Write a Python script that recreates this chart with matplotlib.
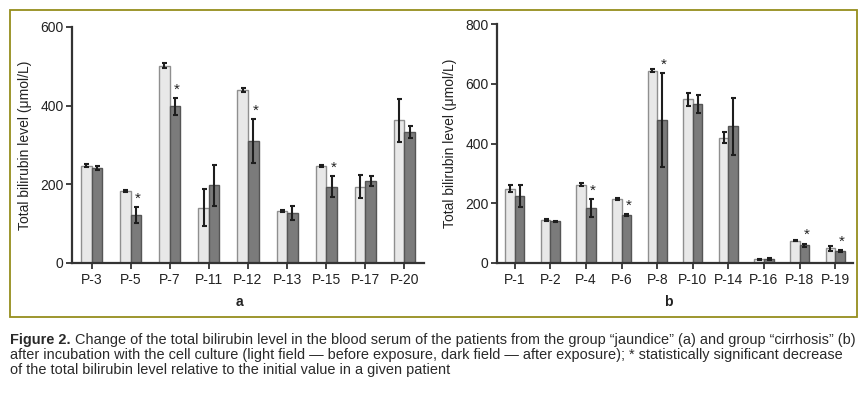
import matplotlib
matplotlib.use('Agg')
import matplotlib.pyplot as plt
from matplotlib import font_manager as fm
from matplotlib.patches import Rectangle
import numpy as np

# ---------------- data ----------------
groups_a = ['P-3', 'P-5', 'P-7', 'P-11', 'P-12', 'P-13', 'P-15', 'P-17', 'P-20']
before_a = [247, 183, 502, 141, 440, 133, 247, 194, 363]
before_err_a = [4, 3, 6, 47, 6, 3, 2, 30, 55]
after_a = [242, 122, 398, 198, 310, 128, 194, 208, 333]
after_err_a = [5, 20, 22, 52, 57, 18, 27, 12, 16]
sig_a = [False, True, True, False, True, False, True, False, False]

groups_b = ['P-1', 'P-2', 'P-4', 'P-6', 'P-8', 'P-10', 'P-14', 'P-16', 'P-18', 'P-19']
before_b = [249, 144, 262, 215, 644, 548, 419, 12, 74, 49]
before_err_b = [13, 3, 5, 3, 6, 22, 18, 2, 2, 9]
after_b = [224, 140, 183, 161, 478, 531, 458, 13, 60, 40]
after_err_b = [37, 2, 30, 4, 158, 30, 95, 3, 5, 3]
sig_b = [False, False, True, True, True, False, False, False, True, True]

ylabel = 'Total bilirubin level (\u03bcmol/L)'
yticks_a = [0, 200, 400, 600]
yticks_b = [0, 200, 400, 600, 800]

caption_bold = 'Figure 2.'
caption_lines = [
    ' Change of the total bilirubin level in the blood serum of the patients from the group \u201cjaundice\u201d (a) and group \u201ccirrhosis\u201d (b)',
    'after incubation with the cell culture (light field \u2014 before exposure, dark field \u2014 after exposure); * statistically significant decrease',
    'of the total bilirubin level relative to the initial value in a given patient',
]

# ---------------- fonts ----------------
def has_font(name):
    try:
        fm.findfont(fm.FontProperties(family=name), fallback_to_default=False)
        return True
    except Exception:
        return False

chart_font = 'Liberation Sans' if has_font('Liberation Sans') else 'DejaVu Sans'
cap_font = 'Liberation Sans Narrow' if has_font('Liberation Sans Narrow') else chart_font
plt.rcParams['font.family'] = [chart_font, 'DejaVu Sans']

W, H = 867, 399
fig = plt.figure(figsize=(W / 100, H / 100), dpi=100)

def rect(l, r, t, b):
    return [l / W, 1 - b / H, (r - l) / W, (b - t) / H]

LIGHT = '#e8e8e8'
LIGHT_EDGE = '#8f8f8f'
DARK = '#7b7b7b'
DARK_EDGE = '#555555'
ERR = '#1e1e1e'
AXC = '#333333'

def panel(ax, groups, before, berr, after, aerr, sig, yticks):
    x = np.arange(len(groups))
    w = 0.27
    ax.bar(x - w / 2, before, w, color=LIGHT, edgecolor=LIGHT_EDGE, linewidth=1.0, zorder=2)
    ax.bar(x + w / 2, after, w, color=DARK, edgecolor=DARK_EDGE, linewidth=1.0, zorder=2)
    ax.errorbar(x - w / 2, before, yerr=berr, fmt='none', ecolor=ERR,
                elinewidth=1.5, capsize=1.8, capthick=1.5, zorder=3)
    ax.errorbar(x + w / 2, after, yerr=aerr, fmt='none', ecolor=ERR,
                elinewidth=1.5, capsize=1.8, capthick=1.5, zorder=3)
    for xi, a, e, s in zip(x, after, aerr, sig):
        if s:
            ax.annotate('*', xy=(xi + w / 2, a + e), xytext=(1.5, 6),
                        textcoords='offset points', ha='center', va='center',
                        fontsize=11, color='#222222')
    ax.set_xlim(-0.5, len(groups) - 0.5)
    ax.set_ylim(yticks[0], yticks[-1])
    ax.set_yticks(yticks)
    ax.set_xticks(x)
    ax.set_xticklabels(groups)
    for sp in ['top', 'right']:
        ax.spines[sp].set_visible(False)
    for sp in ['left', 'bottom']:
        ax.spines[sp].set_color(AXC)
        ax.spines[sp].set_linewidth(1.6)
    ax.tick_params(axis='both', direction='out', length=4, width=1.3, color=AXC,
                   labelsize=10, labelcolor='#222222')
    ax.tick_params(axis='x', pad=3)
    ax.tick_params(axis='y', pad=2)
    ax.set_ylabel(ylabel, fontsize=10, color='#222222', labelpad=6)
    ax.set_facecolor('none')

ax_a = fig.add_axes(rect(72, 424, 27, 263))
panel(ax_a, groups_a, before_a, before_err_a, after_a, after_err_a, sig_a, yticks_a)
ax_b = fig.add_axes(rect(497, 853, 24, 263))
panel(ax_b, groups_b, before_b, before_err_b, after_b, after_err_b, sig_b, yticks_b)

# panel letters
fig.text(239 / W, 1 - 302 / H, 'a', ha='center', va='center', fontsize=10,
         fontweight='bold', family=[cap_font, 'DejaVu Sans'], color='#222222')
fig.text(668 / W, 1 - 302 / H, 'b', ha='center', va='center', fontsize=10,
         fontweight='bold', family=[cap_font, 'DejaVu Sans'], color='#222222')

# border box
fig.patches.append(Rectangle((10 / W, 1 - 317 / H), (857 - 10) / W, (317 - 10) / H,
                             transform=fig.transFigure, fill=False,
                             edgecolor='#958e1c', linewidth=1.3))

# caption, fitted to width
renderer = fig.canvas.get_renderer()
trial = 10.0
fam = [cap_font, 'DejaVu Sans']
t1 = fig.text(0, 0, caption_bold, fontsize=trial, fontweight='bold', family=fam)
t2 = fig.text(0, 0, caption_lines[0], fontsize=trial, family=fam)
t3 = fig.text(0, 0, caption_lines[1], fontsize=trial, family=fam)
w1 = t1.get_window_extent(renderer).width + t2.get_window_extent(renderer).width
w2 = t3.get_window_extent(renderer).width
for tt in (t1, t2, t3):
    tt.remove()
cap_size = min(trial * 844 / w1, trial * 846 / w2)

x0 = 10 / W
ys = [340, 355, 370]
tb = fig.text(x0, 1 - ys[0] / H, caption_bold, fontsize=cap_size, fontweight='bold',
              family=fam, va='center', ha='left', color='#2a2a2a')
bw = tb.get_window_extent(renderer).width
fig.text(x0 + bw / W, 1 - ys[0] / H, caption_lines[0], fontsize=cap_size,
         family=fam, va='center', ha='left', color='#2a2a2a')
for line, y in zip(caption_lines[1:], ys[1:]):
    fig.text(x0, 1 - y / H, line, fontsize=cap_size,
             family=fam, va='center', ha='left', color='#2a2a2a')

fig.savefig('out.png', dpi=100, facecolor='white')
